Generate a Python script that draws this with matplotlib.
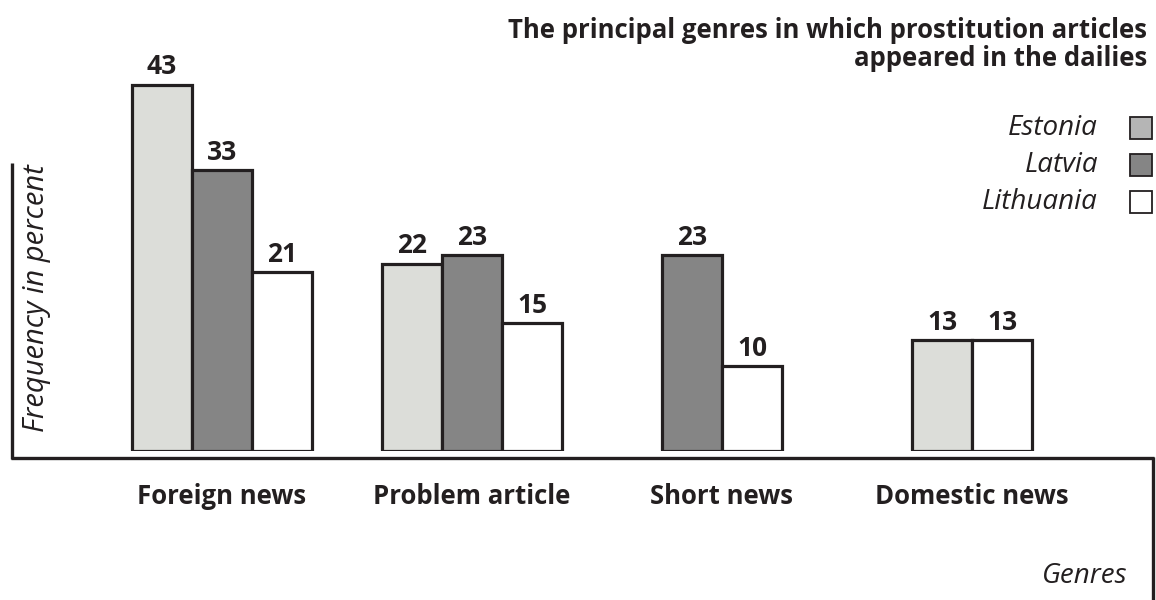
import numpy as np
import matplotlib
matplotlib.use('Agg')
import matplotlib.pyplot as plt
from matplotlib.lines import Line2D
from matplotlib.patches import Rectangle

plt.rcParams['font.family'] = ['Open Sans', 'DejaVu Sans']

# Data
genres = ['Foreign news', 'Problem article', 'Short news', 'Domestic news']
countries = ['Estonia', 'Latvia', 'Lithuania']
estonia = [43, 22, None, 13]
latvia = [33, 23, 23, None]
lithuania = [21, 15, 10, 13]

bar_colors = ['#dcddd9', '#858585', '#ffffff']
legend_colors = ['#b5b5b5', '#858585', '#ffffff']
edge = '#231f20'

W, H = 1156, 600
fig = plt.figure(figsize=(W / 100, H / 100), dpi=100)

# axes: value 0 at 451 px from top, 8.52 px per unit
base_px = 451
top_px = 60
ax = fig.add_axes([0, (H - base_px) / H, 1, (base_px - top_px) / H])
ax.set_ylim(0, (base_px - top_px) / 8.52)
spacing = 250
ax.set_xlim(-222 / spacing, (W - 222) / spacing)
ax.axis('off')

width = 60 / spacing
series = [estonia, latvia, lithuania]
for g in range(len(genres)):
    present = [(i, s[g]) for i, s in enumerate(series) if s[g] is not None]
    n = len(present)
    for k, (i, v) in enumerate(present):
        x = g + (k - (n - 1) / 2) * width
        ax.bar(x, v, width=width, color=bar_colors[i], edgecolor=edge,
               linewidth=2.3, zorder=2)
        ax.annotate(str(v), (x, v), xytext=(0, 3), textcoords='offset points',
                    ha='center', va='bottom', fontsize=19, fontweight='bold',
                    color='#231f20')

# category labels
for g, name in enumerate(genres):
    px = 222 + g * spacing
    fig.text(px / W, 1 - 497 / H, name, ha='center', va='center',
             fontsize=18.5, fontweight='bold', color='#231f20')

# axis lines
lw = 2.4
fig.add_artist(Line2D([12 / W, 12 / W], [1 - 163 / H, 1 - 459 / H],
                      color=edge, lw=lw, solid_capstyle='butt'))
fig.add_artist(Line2D([11 / W, 1154 / W], [1 - 458 / H, 1 - 458 / H],
                      color=edge, lw=lw, solid_capstyle='butt'))
fig.add_artist(Line2D([1153 / W, 1153 / W], [1 - 457 / H, 0],
                      color=edge, lw=lw, solid_capstyle='butt'))

# axis titles
fig.text(37 / W, 1 - 298 / H, 'Frequency in percent', rotation=90,
         ha='center', va='center', fontsize=21, fontstyle='italic',
         color='#231f20')
fig.text(1128 / W, 1 - 576 / H, 'Genres', ha='right', va='center',
         fontsize=20, fontstyle='italic', color='#231f20')

# title
fig.text(1147 / W, 1 - 30 / H, 'The principal genres in which prostitution articles',
         ha='right', va='center', fontsize=18.5, fontweight='bold', color='#231f20')
fig.text(1147 / W, 1 - 58 / H, 'appeared in the dailies',
         ha='right', va='center', fontsize=18.5, fontweight='bold', color='#231f20')

# legend
for i, name in enumerate(countries):
    y = 128 + i * 37
    fig.text(1098 / W, 1 - y / H, name, ha='right', va='center',
             fontsize=20, fontstyle='italic', color='#231f20')
    fig.add_artist(Rectangle((1130 / W, 1 - (y + 11) / H), 22 / W, 22 / H,
                             transform=fig.transFigure, facecolor=legend_colors[i],
                             edgecolor=edge, linewidth=1.3))

fig.savefig('out.png', dpi=100)
